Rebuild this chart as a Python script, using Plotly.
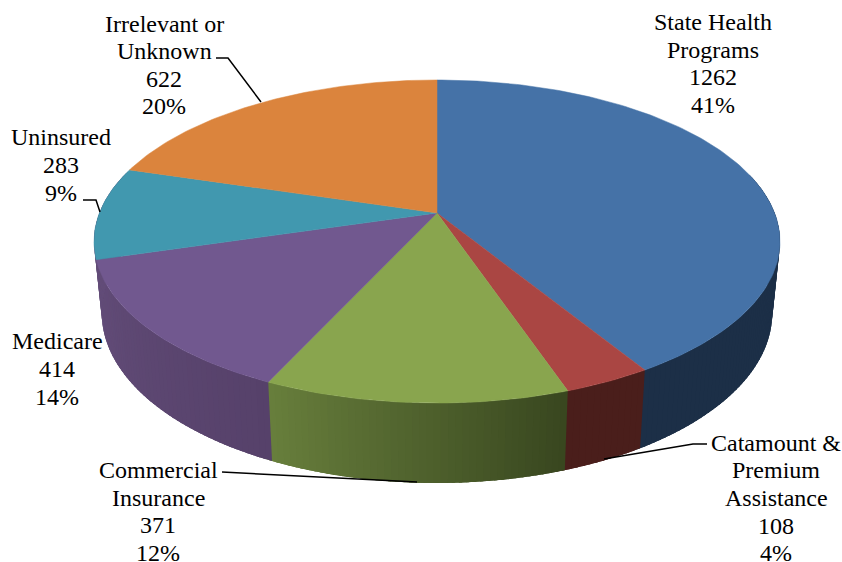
import math
import plotly.graph_objects as go

# ---- data ----
label_names = [["State Health", "Programs"], ["Catamount &", "Premium", "Assistance"], ["Commercial", "Insurance"],
               ["Medicare"], ["Uninsured"], ["Irrelevant or", "Unknown"]]
values = [1262, 108, 371, 414, 283, 622]
percent_labels = ["41%", "4%", "12%", "14%", "9%", "20%"]

# ---- styles ----
top_colors = ["#4572A7", "#AA4643", "#89A54E", "#71588F", "#4198AF", "#DB843D"]
side_start = [(28, 47, 71), (74, 30, 27), (56, 70, 31), (86, 65, 106), (98, 76, 120), (150, 90, 40)]
side_end = [(28, 47, 71), (74, 30, 27), (104, 127, 60), (98, 76, 120), (98, 76, 120), (150, 90, 40)]
label_pos = [(713, 63.5), (776, 498), (158, 511.5), (57, 369), (61, 165), (164, 65)]
LINE_STEP = 27.6
leaders = [
    ([216, 228, 261], [58, 58, 102]),
    ([83, 96, 100], [200, 200, 212]),
    ([222, 417], [472, 482]),
    ([707, 693, 604], [444, 444, 459]),
]

CX, K = 437, 0.1765
TOP = dict(a=337.6, b=156.5, y0=213.0)
LOW = dict(a=330.0, b=164.7, y0=283.0)


def project(theta_deg, rim):
    t = math.radians(theta_deg)
    u, v = math.sin(t), math.cos(t)
    w = 1 + K * v
    return CX + rim["a"] * u / w, rim["y0"] - rim["b"] * v / w


total = sum(values)
bounds = [0.0]
for val in values:
    bounds.append(bounds[-1] + val / total * 360)

fig = go.Figure()

# side wall, one narrow band per step so that the shading can vary along the rim;
# each band runs on under the next one so that no seams show
for i in range(len(values)):
    a0, a1 = bounds[i], bounds[i + 1]
    n = max(2, int((a1 - a0) / 1.0))
    for j in range(n):
        s0 = a0 + (a1 - a0) * j / n
        s1 = a0 + (a1 - a0) * (j + 1) / n
        if math.cos(math.radians((s0 + s1) / 2)) > 0.25:
            continue
        f = (j + 0.5) / n
        c = tuple(round(side_start[i][k] + (side_end[i][k] - side_start[i][k]) * f) for k in range(3))
        col = "rgb(%d,%d,%d)" % c
        e = s1 + 1.5
        p = [project(s0, TOP), project(s1, TOP), project(e, TOP), project(e, LOW), project(s1, LOW), project(s0, LOW), project(s0, TOP)]
        fig.add_trace(go.Scatter(x=[q[0] for q in p], y=[q[1] for q in p], mode="lines", fill="toself",
                                 fillcolor=col, line=dict(color=col, width=0), hoverinfo="skip", showlegend=False))

# top face
for i in range(len(values)):
    a0, a1 = bounds[i], bounds[i + 1]
    n = max(8, int(a1 - a0))
    pts = [(CX, TOP["y0"])] + [project(a0 + (a1 - a0) * j / n, TOP) for j in range(n + 1)] + [(CX, TOP["y0"])]
    fig.add_trace(go.Scatter(x=[q[0] for q in pts], y=[q[1] for q in pts], mode="lines", fill="toself",
                             fillcolor=top_colors[i], line=dict(color=top_colors[i], width=0.5),
                             name=" ".join(label_names[i]), hoverinfo="name", showlegend=False))

for lx, ly in leaders:
    fig.add_trace(go.Scatter(x=lx, y=ly, mode="lines", line=dict(color="black", width=1.5),
                             hoverinfo="skip", showlegend=False))

for i in range(len(values)):
    lines = label_names[i] + [str(values[i]), percent_labels[i]]
    for m, txt in enumerate(lines):
        fig.add_annotation(x=label_pos[i][0], y=label_pos[i][1] + (m - (len(lines) - 1) / 2) * LINE_STEP,
                           xref="x", yref="y", showarrow=False, text=txt,
                           align="center", xanchor="center", yanchor="middle",
                           font=dict(family="Liberation Serif", size=24, color="black"))

fig.update_layout(
    width=842, height=562, margin=dict(l=0, r=0, t=0, b=0),
    paper_bgcolor="white", plot_bgcolor="white", showlegend=False,
    xaxis=dict(range=[0, 842], visible=False, fixedrange=True),
    yaxis=dict(range=[562, 0], visible=False, fixedrange=True),
)
fig.write_html("out.html", config={"displayModeBar": False},
               post_script="document.body.style.margin='0';document.documentElement.style.overflow='hidden';")
